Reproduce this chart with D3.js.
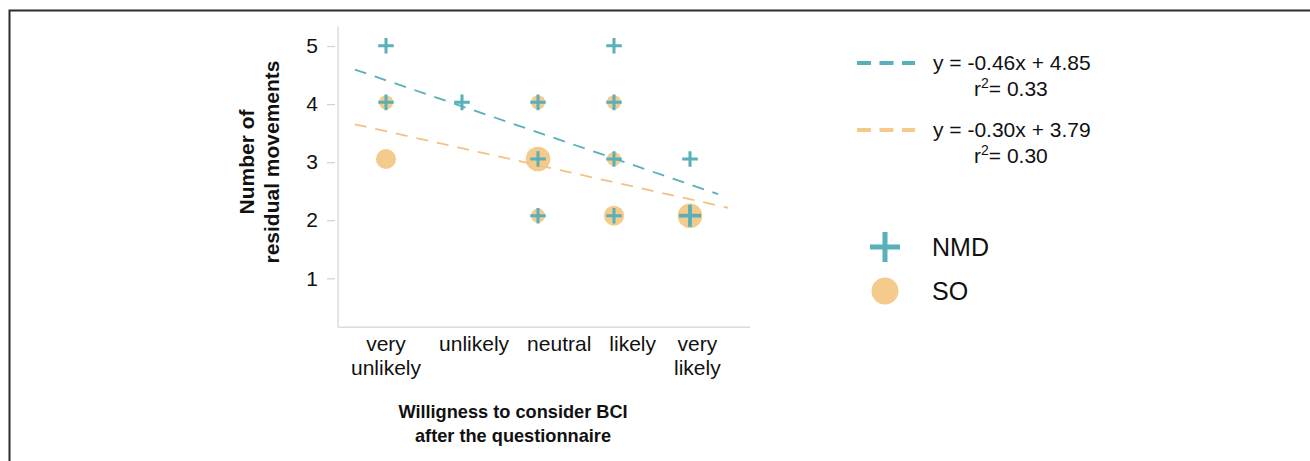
<!DOCTYPE html>
<html>
<head>
<meta charset="utf-8">
<script src="https://cdn.jsdelivr.net/npm/d3@7/dist/d3.min.js"></script>
<style>
  html, body { margin: 0; padding: 0; background: #fff; }
  svg { display: block; font-family: "Liberation Sans", Arial, sans-serif; }
</style>
</head>
<body>
<svg id="chart" width="1310" height="461"></svg>
<script>
// ---- data ----
const categories = [["very", "unlikely"], ["unlikely"], ["neutral"], ["likely"], ["very", "likely"]];
const yTickValues = [1, 2, 3, 4, 5];

// NMD group: [category index (1-5), residual movements, count]
const nmdX = [1, 1, 2, 3, 3, 3, 4, 4, 4, 4, 5, 5];
const nmdY = [5, 4, 4, 4, 3, 2, 5, 4, 3, 2, 3, 2];
const nmdN = [1, 1, 1, 1, 1, 1, 1, 1, 1, 1, 1, 2];

// SO group
const soX = [1, 1, 3, 3, 3, 4, 4, 4, 5];
const soY = [4, 3, 4, 3, 2, 4, 3, 2, 2];
const soN = [1, 2, 1, 3, 1, 1, 1, 2, 3];

// linear fits: slope, intercept, r², x-extent of the drawn line
const fitNames = ["NMD", "SO"];
const fitSlope = [-0.46, -0.30];
const fitIntercept = [4.85, 3.79];
const fitR2 = ["0.33", "0.30"];
const fitFrom = [0.59, 0.59];
const fitTo = [5.37, 5.5];

// ---- style ----
const teal = "#58b0b9";
const orange = "#f4cb8d";
const orangeLine = "#f2c282";

const svg = d3.select("#chart");

// outer frame
svg.append("path")
  .attr("d", "M9.5,461 V10.5 H1310")
  .attr("fill", "none").attr("stroke", "#2b2b2b").attr("stroke-width", 2);

// scales
const x = d3.scaleLinear().domain([1, 5]).range([386, 690]);
const y = d3.scaleLinear().domain([0, 5]).range([329, 45.7]);
const yAxisScale = d3.scaleLinear().domain([1, 5]).range([278.3, 46]);
const plotX = [0.37, 5.79];
const plotYTop = 26.7, plotYBottom = 327.3;

// axis lines
svg.append("line")
  .attr("x1", x(plotX[0])).attr("x2", x(plotX[0]))
  .attr("y1", plotYTop).attr("y2", plotYBottom)
  .attr("stroke", "#dcdcdc").attr("stroke-width", 1.5);
svg.append("line")
  .attr("x1", x(plotX[0])).attr("x2", x(plotX[1]))
  .attr("y1", plotYBottom).attr("y2", plotYBottom)
  .attr("stroke", "#dcdcdc").attr("stroke-width", 1.5);

// y axis ticks and labels
const yAxis = svg.append("g")
  .attr("transform", "translate(335,0)")
  .call(d3.axisLeft(yAxisScale).tickValues(yTickValues).tickFormat(d3.format("d"))
    .tickSize(8).tickPadding(9).tickSizeOuter(0));
yAxis.select(".domain").remove();
yAxis.selectAll(".tick line").attr("stroke", "#d0d0d0").attr("stroke-width", 1.2);
yAxis.selectAll(".tick text")
  .attr("font-family", "Liberation Sans, Arial, sans-serif")
  .attr("font-size", 21).attr("fill", "#111");

// x tick labels, laid out one after another with an even gap
const xLab = svg.append("g").attr("font-size", 21).attr("fill", "#111");
let cursor = 351;
const gap = 18;
categories.forEach((lines) => {
  const g = xLab.append("g");
  const texts = lines.map((t, i) => g.append("text").attr("y", 351 + i * 23.5).text(t));
  const w = d3.max(texts, t => t.node().getComputedTextLength());
  const cx = cursor + w / 2;
  texts.forEach(t => t.attr("x", cx).attr("text-anchor", "middle"));
  cursor += w + gap;
});

// axis titles
const xt = svg.append("text").attr("font-size", 18.2).attr("font-weight", "bold")
  .attr("text-anchor", "middle").attr("fill", "#111");
xt.append("tspan").attr("x", 513).attr("y", 418).text("Willigness to consider BCI");
xt.append("tspan").attr("x", 513).attr("y", 442).text("after the questionnaire");

const yt = svg.append("text").attr("font-size", 21).attr("font-weight", "bold")
  .attr("text-anchor", "middle").attr("fill", "#111")
  .attr("transform", "translate(0,162) rotate(-90)");
yt.append("tspan").attr("x", 0).attr("y", 254).text("Number of");
yt.append("tspan").attr("x", 0).attr("y", 279).text("residual movements");

// SO circles (area grows with count)
const rScale = d3.scaleSqrt().domain([0, 3]).range([0, 12.3]);
svg.append("g").selectAll("circle")
  .data(soX.map((c, i) => ({ c, v: soY[i], n: soN[i] })))
  .join("circle")
  .attr("cx", d => x(d.c)).attr("cy", d => y(d.v))
  .attr("r", d => rScale(d.n))
  .attr("fill", orange);

// regression lines
const fitColors = [teal, orangeLine];
fitNames.forEach((name, i) => {
  const f = v => fitSlope[i] * v + fitIntercept[i];
  svg.append("line")
    .attr("x1", x(fitFrom[i])).attr("y1", y(f(fitFrom[i])))
    .attr("x2", x(fitTo[i])).attr("y2", y(f(fitTo[i])))
    .attr("stroke", fitColors[i]).attr("stroke-width", 1.8)
    .attr("stroke-dasharray", "12,9");
});

// NMD crosses (size grows with count)
const armScale = d3.scaleSqrt().domain([0, 2]).range([0, 11]);
const cross = (cx, cy, h) => `M${cx - h},${cy}H${cx + h}M${cx},${cy - h}V${cy + h}`;
svg.append("g").selectAll("path")
  .data(nmdX.map((c, i) => ({ c, v: nmdY[i], n: nmdN[i] })))
  .join("path")
  .attr("d", d => cross(x(d.c), y(d.v), armScale(d.n)))
  .attr("stroke", teal)
  .attr("stroke-width", d => d.n > 1 ? 3.8 : 3)
  .attr("fill", "none");

// legend: fit lines with equations
const legend = svg.append("g").attr("fill", "#111");
const fitRowY = [63, 130];
fitNames.forEach((name, i) => {
  legend.append("line")
    .attr("x1", 857).attr("x2", 915)
    .attr("y1", fitRowY[i]).attr("y2", fitRowY[i])
    .attr("stroke", i === 0 ? teal : orange).attr("stroke-width", 4)
    .attr("stroke-dasharray", "14,8.5");
  const sign = fitIntercept[i] >= 0 ? "+" : "-";
  legend.append("text").attr("x", 933).attr("y", fitRowY[i] + 7)
    .attr("font-size", 21)
    .text(`y = ${fitSlope[i].toFixed(2)}x ${sign} ${Math.abs(fitIntercept[i]).toFixed(2)}`);
  const r = legend.append("text").attr("x", 974).attr("y", fitRowY[i] + 33).attr("font-size", 21);
  r.append("tspan").text("r");
  r.append("tspan").attr("font-size", 14).attr("dy", -8).text("2");
  r.append("tspan").attr("dy", 8).text("= " + fitR2[i]);
});

// legend: groups
legend.append("path").attr("d", cross(885, 247, 15))
  .attr("stroke", teal).attr("stroke-width", 5).attr("fill", "none");
legend.append("text").attr("x", 932).attr("y", 256).attr("font-size", 25).text("NMD");
legend.append("circle").attr("cx", 885).attr("cy", 291).attr("r", 13.5).attr("fill", orange);
legend.append("text").attr("x", 932).attr("y", 300).attr("font-size", 25).text("SO");
</script>
</body>
</html>
